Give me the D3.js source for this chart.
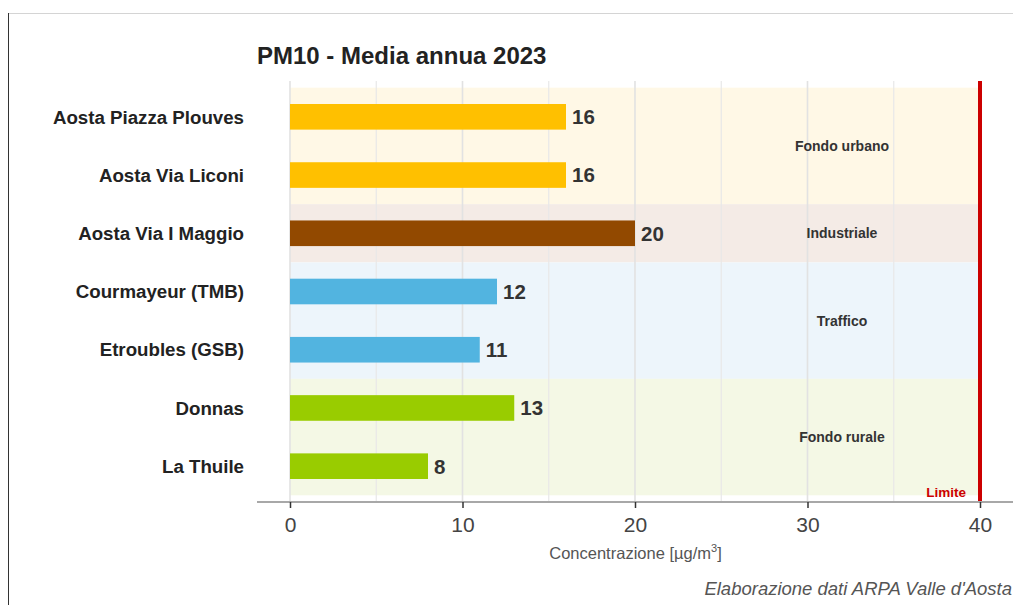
<!DOCTYPE html>
<html>
<head>
<meta charset="utf-8">
<script src="https://cdn.jsdelivr.net/npm/d3@7"></script>
<style>
  html, body { margin: 0; padding: 0; background: #fff; }
  svg { display: block; font-family: "Liberation Sans", Arial, sans-serif; }
</style>
</head>
<body>
<svg id="chart" width="1013" height="605"></svg>
<script>
// PM10 annual mean per monitoring station, 2023
const stations = ["Aosta Piazza Plouves", "Aosta Via Liconi", "Aosta Via I Maggio",
                  "Courmayeur (TMB)", "Etroubles (GSB)", "Donnas", "La Thuile"];
const values = [16, 16, 20, 12, 11, 13, 8];
const stationType = ["Fondo urbano", "Fondo urbano", "Industriale",
                     "Traffico", "Traffico", "Fondo rurale", "Fondo rurale"];

const typeNames = ["Fondo urbano", "Industriale", "Traffico", "Fondo rurale"];
const typeBarColors = ["#FFC000", "#924900", "#52B4E0", "#99CC00"];
const typeBandColors = ["#FFF8E6", "#F4EBE6", "#EDF5FB", "#F4F8E5"];

const xTicks = [0, 10, 20, 30, 40];
const xMinorTicks = [5, 15, 25, 35];
const limitValue = 40;
const typeLabelX = 32;

const svg = d3.select("#chart");
const W = 1013, H = 605;

// frame
svg.append("line").attr("x1", 8).attr("x2", W).attr("y1", 13.5).attr("y2", 13.5)
  .attr("stroke", "#d4d4d4").attr("stroke-width", 1);
svg.append("line").attr("x1", 8.5).attr("x2", 8.5).attr("y1", 13).attr("y2", H)
  .attr("stroke", "#333").attr("stroke-width", 1);

const panel = { left: 258, right: W, top: 81, bottom: 502 };

const x = d3.scaleLinear().domain([-2, 42]).range([255.5, 1014.5]);
const y = d3.scaleLinear().domain([-0.615, stations.length - 1 + 0.615])
  .range([panel.top, panel.bottom]);

const g = svg.append("g");

// category bands
typeNames.forEach((t, i) => {
  const idx = stationType.map((s, j) => s === t ? j : -1).filter(j => j >= 0);
  const lo = d3.min(idx) - 0.5, hi = d3.max(idx) + 0.5;
  g.append("rect")
    .attr("x", x(0)).attr("width", x(limitValue) - x(0))
    .attr("y", y(lo)).attr("height", y(hi) - y(lo))
    .attr("fill", typeBandColors[i]);
});

// grid
g.selectAll(".minor").data(xMinorTicks).join("line")
  .attr("x1", d => x(d)).attr("x2", d => x(d))
  .attr("y1", panel.top).attr("y2", panel.bottom)
  .attr("stroke", "#e8e8e8").attr("stroke-width", 1.2);
g.selectAll(".major").data(xTicks).join("line")
  .attr("x1", d => x(d)).attr("x2", d => x(d))
  .attr("y1", panel.top).attr("y2", panel.bottom)
  .attr("stroke", "#e2e2e2").attr("stroke-width", 1.6);

// band labels
typeNames.forEach((t, i) => {
  const idx = stationType.map((s, j) => s === t ? j : -1).filter(j => j >= 0);
  const mid = (d3.min(idx) + d3.max(idx)) / 2;
  g.append("text")
    .attr("x", x(typeLabelX)).attr("y", y(mid))
    .attr("dy", "0.35em").attr("text-anchor", "middle")
    .attr("font-size", 14).attr("font-weight", "bold").attr("fill", "#333")
    .text(t);
});

// bars
const step = y(1) - y(0);
const barH = step * 0.44;
g.selectAll(".bar").data(values).join("rect")
  .attr("x", x(0)).attr("width", d => x(d) - x(0))
  .attr("y", (d, i) => y(i) - barH / 2).attr("height", barH)
  .attr("fill", (d, i) => typeBarColors[typeNames.indexOf(stationType[i])]);

// value labels
g.selectAll(".val").data(values).join("text")
  .attr("x", d => x(d) + 6).attr("y", (d, i) => y(i))
  .attr("dy", "0.36em")
  .attr("font-size", 20.5).attr("font-weight", "bold").attr("fill", "#333")
  .text(d => d);

// station labels
g.selectAll(".cat").data(stations).join("text")
  .attr("x", 244).attr("y", (d, i) => y(i))
  .attr("dy", "0.36em").attr("text-anchor", "end")
  .attr("font-size", 18.7).attr("font-weight", "bold").attr("fill", "#222")
  .text(d => d);

// limit line
g.append("line")
  .attr("x1", x(limitValue)).attr("x2", x(limitValue))
  .attr("y1", panel.top).attr("y2", panel.bottom)
  .attr("stroke", "#CC0000").attr("stroke-width", 4);
g.append("text")
  .attr("x", x(limitValue) - 14).attr("y", 497)
  .attr("text-anchor", "end")
  .attr("font-size", 13.5).attr("font-weight", "bold").attr("fill", "#CC0000")
  .text("Limite");

// x axis
const axis = svg.append("g").attr("transform", `translate(0,${panel.bottom})`)
  .call(d3.axisBottom(x).tickValues(xTicks).tickSize(6).tickPadding(9).tickFormat(d3.format("d")));
axis.select(".domain").remove();
axis.insert("line", ":first-child")
  .attr("x1", 257).attr("x2", W).attr("y1", 0).attr("y2", 0)
  .attr("stroke", "#a8a8a8").attr("stroke-width", 2);
axis.selectAll(".tick line").attr("stroke", "#333").attr("stroke-width", 1.5);
axis.selectAll(".tick text")
  .attr("font-size", 21).attr("fill", "#444")
  .attr("font-family", "Liberation Sans, Arial, sans-serif");

// axis title
const xt = svg.append("text")
  .attr("x", (panel.left + panel.right) / 2).attr("y", 559)
  .attr("text-anchor", "middle")
  .attr("font-size", 16.5).attr("fill", "#555");
xt.append("tspan").text("Concentrazione [µg/m");
xt.append("tspan").attr("font-size", 11).attr("dy", -7).text("3");
xt.append("tspan").attr("dy", 7).text("]");

// title
svg.append("text")
  .attr("x", 257).attr("y", 64)
  .attr("font-size", 24).attr("font-weight", "bold").attr("fill", "#222")
  .text("PM10 - Media annua 2023");

// caption
svg.append("text")
  .attr("x", 1012).attr("y", 595)
  .attr("text-anchor", "end")
  .attr("font-size", 18.5).attr("font-style", "italic").attr("fill", "#555")
  .text("Elaborazione dati ARPA Valle d'Aosta");
</script>
</body>
</html>
